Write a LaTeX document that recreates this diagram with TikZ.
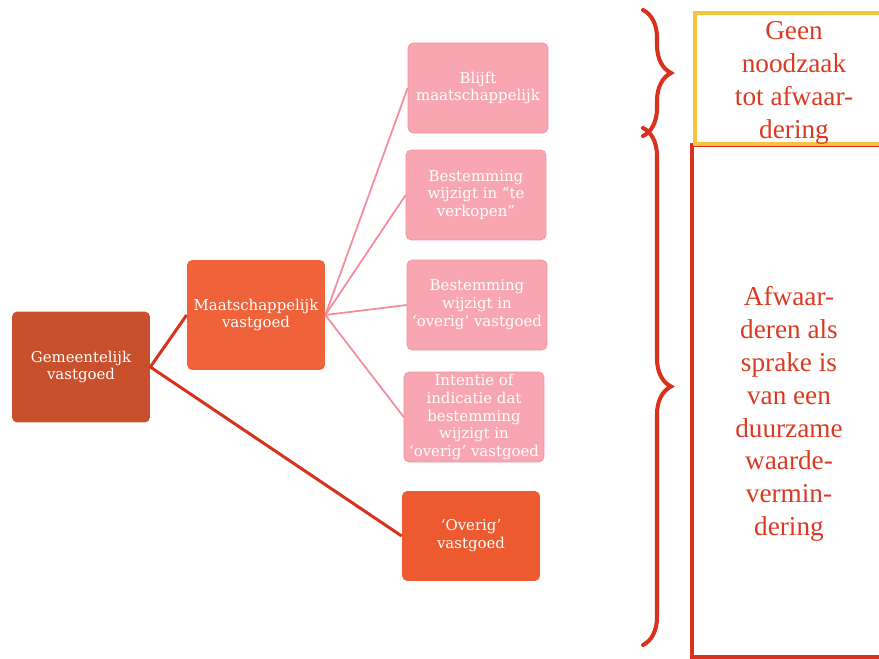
\documentclass[tikz,border=0pt]{standalone}
\usepackage{fontspec}
\setmainfont{Liberation Serif}
\newfontfamily\boxfont[Ligatures=TeX]{DejaVu Serif}
\usepackage{tikz}
\usetikzlibrary{positioning,decorations.pathreplacing}
\usepackage{xcolor}
\definecolor{GemRed}{HTML}{C9502C}
\definecolor{MaatOrange}{HTML}{F0633A}
\definecolor{OverigOrange}{HTML}{EE5A30}
\definecolor{PinkFill}{HTML}{F8A7B2}
\definecolor{PinkLine}{HTML}{F38C9C}
\definecolor{LineRed}{HTML}{D8321F}
\definecolor{TextRed}{HTML}{DA3A22}
\definecolor{FrameYellow}{HTML}{F6C240}
\tikzset{
    % Base box style
    basebox/.style={
        rounded corners=3pt,
        minimum width=2.76cm,
        minimum height=1.8cm,
        align=center,
        text=white,
        font=\boxfont\fontsize{8.5}{10.2}\selectfont,
        inner sep=1pt
    },
    % Top level box
    gemnode/.style={
        basebox,
        fill=GemRed,
        minimum height=2.22cm
    },
    % Second level box
    maatnode/.style={
        basebox,
        fill=MaatOrange,
        minimum height=2.2cm
    },
    % Outcome boxes
    pinknode/.style={
        basebox,
        fill=PinkFill,
        draw=PinkLine,
        line width=0.4pt,
        minimum width=2.8cm
    },
    % Other real estate box
    overignode/.style={
        basebox,
        fill=OverigOrange
    },
    % Connector styles
    redline/.style={
        line width=1.7pt,
        draw=LineRed
    },
    pinkline/.style={
        line width=1pt,
        draw=PinkLine
    },
    % Curly brace
    bigbrace/.style={
        draw=LineRed,
        line width=2.3pt,
        line cap=round,
        decorate,
        decoration={brace,amplitude=0.56cm}
    },
    % Conclusion text
    verdict/.style={
        align=center,
        text=TextRed,
        font=\fontsize{15.5}{18.7}\selectfont
    }
}

\begin{document}
\begin{tikzpicture}[x=0.02cm, y=-0.02cm]
        \useasboundingbox (0,0) rectangle (879,659);

        % Frames on the right
        \begin{scope}
            \clip (0,0) rectangle (879,659);
            \draw[LineRed, line width=2.8pt] (692,145) rectangle (900,657);
            \draw[FrameYellow, line width=2.8pt] (695,13) rectangle (900,144);
        \end{scope}

        % Tree
        \node[gemnode] (gem) at (81,367) {Gemeentelijk\\vastgoed};
        \node[maatnode] (maat) at (256,315) {Maatschappelijk\\vastgoed};

        \node[pinknode] (b1) at (478,88) {Blijft\\maatschappelijk};
        \node[pinknode] (b2) at (476,195) {Bestemming\\wijzigt in “te\\verkopen”};
        \node[pinknode] (b3) at (477,305) {Bestemming\\wijzigt in\\‘overig’ vastgoed};
        \node[pinknode] (b4) at (474,417) {Intentie of\\indicatie dat\\bestemming\\wijzigt in\\‘overig’ vastgoed};

        \node[overignode] (overig) at (471,536) {‘Overig’\\vastgoed};

        % Lines
        \draw[redline] (maat.west) -- (gem.east) -- (overig.west);
        \foreach \b in {b1,b2,b3,b4}
            \draw[pinkline] (maat.east) -- (\b.west);

        % Braces
        \coordinate (up1) at (643,10);
        \coordinate (up2) at (643,136);
        \coordinate (lo1) at (643,128);
        \coordinate (lo2) at (643,645);
        \draw[bigbrace] (up1) -- (up2);
        \draw[bigbrace] (lo1) -- (lo2);

        % Conclusions
        \node[verdict] (geen) at (794,83) {Geen\\noodzaak\\tot afwaar-\\dering};
        \node[verdict] (afw) at (789,414) {Afwaar-\\deren als\\sprake is\\van een\\duurzame\\waarde-\\vermin-\\dering};
    \end{tikzpicture}
\end{document}
